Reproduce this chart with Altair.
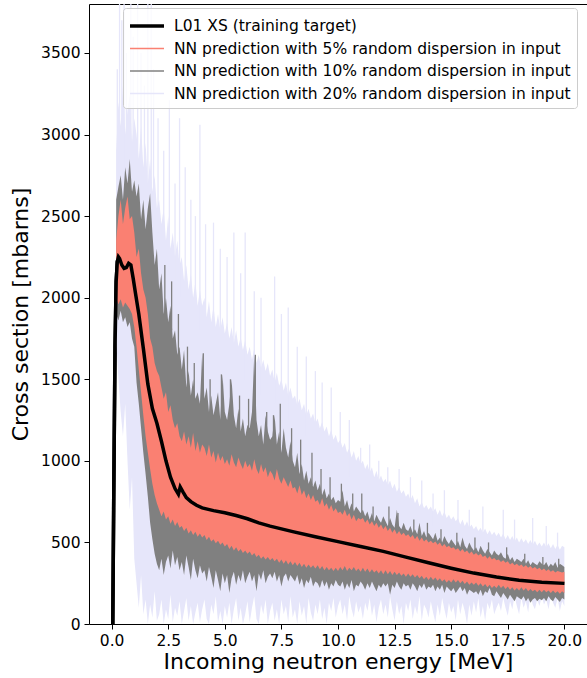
import altair as alt
import pandas as pd

# ---------------- data ----------------
energy = (
    [0.2, 0.3, 0.4, 0.5, 0.6, 0.7, 0.8, 0.9, 1.0]
    + [1.1, 1.2, 1.3, 1.4, 1.5, 1.6, 1.7, 1.8, 1.9, 2.0]
    + [2.1, 2.2, 2.3, 2.4, 2.5, 2.6, 2.7, 2.8, 2.9, 3.0]
    + [3.1, 3.2, 3.3, 3.4, 3.5, 3.6, 3.7, 3.8, 3.9, 4.0]
    + [4.1, 4.2, 4.3, 4.4, 4.5, 4.6, 4.7, 4.8, 4.9, 5.0]
    + [5.1, 5.2, 5.3, 5.4, 5.5, 5.6, 5.7, 5.8, 5.9, 6.0]
    + [6.1, 6.2, 6.3, 6.4, 6.5, 6.6, 6.7, 6.8, 6.9, 7.0]
    + [7.1, 7.2, 7.3, 7.4, 7.5, 7.6, 7.7, 7.8, 7.9, 8.0]
    + [8.1, 8.2, 8.3, 8.4, 8.5, 8.6, 8.7, 8.8, 8.9, 9.0]
    + [9.1, 9.2, 9.3, 9.4, 9.5, 9.6, 9.7, 9.8, 9.9, 10.0]
    + [10.1, 10.2, 10.3, 10.4, 10.5, 10.6, 10.7, 10.8, 10.9, 11.0]
    + [11.1, 11.2, 11.3, 11.4, 11.5, 11.6, 11.7, 11.8, 11.9, 12.0]
    + [12.1, 12.2, 12.3, 12.4, 12.5, 12.6, 12.7, 12.8, 12.9, 13.0]
    + [13.1, 13.2, 13.3, 13.4, 13.5, 13.6, 13.7, 13.8, 13.9, 14.0]
    + [14.1, 14.2, 14.3, 14.4, 14.5, 14.6, 14.7, 14.8, 14.9, 15.0]
    + [15.1, 15.2, 15.3, 15.4, 15.5, 15.6, 15.7, 15.8, 15.9, 16.0]
    + [16.1, 16.2, 16.3, 16.4, 16.5, 16.6, 16.7, 16.8, 16.9, 17.0]
    + [17.1, 17.2, 17.3, 17.4, 17.5, 17.6, 17.7, 17.8, 17.9, 18.0]
    + [18.1, 18.2, 18.3, 18.4, 18.5, 18.6, 18.7, 18.8, 18.9, 19.0]
    + [19.1, 19.2, 19.3, 19.4, 19.5, 19.6, 19.7, 19.8, 19.9, 20.0]
)

# 20 % dispersion (lavender): dense envelope
lav_hi = (
    [2900, 3200, 3050, 3300, 3000, 3150, 3250, 2950, 3100]
    + [3000, 2850, 3050, 2800, 2950, 2700, 2850, 2650, 2750, 2550]
    + [2600, 2450, 2550, 2350, 2500, 2300, 2400, 2250, 2350, 2200]
    + [2250, 2100, 2200, 2050, 2150, 2000, 2100, 1950, 2050, 1950]
    + [2000, 1880, 1980, 1850, 1950, 1820, 1900, 1800, 1880, 1780]
    + [1850, 1750, 1820, 1720, 1800, 1700, 1760, 1680, 1740, 1650]
    + [1700, 1620, 1690, 1600, 1650, 1570, 1620, 1550, 1600, 1520]
    + [1560, 1480, 1540, 1460, 1500, 1430, 1480, 1400, 1450, 1380]
    + [1400, 1340, 1380, 1310, 1350, 1280, 1320, 1260, 1290, 1230]
    + [1260, 1200, 1240, 1180, 1210, 1150, 1190, 1130, 1160, 1110]
    + [1130, 1080, 1110, 1050, 1080, 1020, 1060, 1000, 1030, 980]
    + [1000, 950, 980, 930, 960, 900, 940, 880, 910, 870]
    + [890, 850, 880, 830, 860, 810, 840, 800, 820, 780]
    + [800, 760, 790, 740, 770, 720, 750, 710, 730, 700]
    + [720, 690, 710, 670, 700, 660, 690, 650, 670, 640]
    + [660, 630, 650, 610, 640, 600, 630, 590, 610, 580]
    + [600, 570, 590, 560, 585, 550, 575, 545, 565, 540]
    + [560, 530, 555, 520, 545, 515, 540, 505, 530, 500]
    + [525, 500, 520, 490, 515, 485, 510, 480, 500, 475]
    + [500, 470, 495, 465, 490, 460, 485, 455, 480, 470]
)
lav_lo = (
    [1750, 1500, 1300, 1150, 1350, 1000, 700, 900, 400]
    + [250, 100, 300, 60, 150, 0, 120, 40, 200, 20]
    + [60, 150, 0, 90, 30, 180, 10, 100, 50, 140]
    + [0, 80, 160, 20, 110, 0, 70, 130, 10, 90]
    + [150, 30, 0, 120, 60, 170, 10, 80, 0, 110]
    + [40, 130, 0, 90, 160, 20, 100, 0, 60, 140]
    + [10, 100, 170, 30, 0, 120, 60, 150, 0, 80]
    + [130, 20, 90, 0, 150, 60, 110, 10, 170, 40]
    + [90, 0, 140, 50, 110, 0, 160, 70, 20, 120]
    + [60, 150, 30, 100, 0, 130, 80, 160, 40, 110]
    + [150, 60, 120, 20, 170, 90, 40, 140, 70, 110]
    + [30, 130, 80, 160, 50, 120, 10, 100, 150, 60]
    + [120, 40, 170, 90, 20, 140, 60, 110, 0, 130]
    + [80, 150, 30, 110, 60, 170, 20, 120, 90, 40]
    + [140, 70, 10, 120, 50, 160, 90, 30, 130, 70]
    + [110, 20, 150, 60, 130, 80, 0, 120, 50, 140]
    + [70, 160, 40, 110, 20, 130, 90, 150, 60, 100]
    + [130, 80, 160, 100, 50, 140, 90, 170, 110, 60]
    + [160, 100, 140, 70, 180, 120, 90, 150, 110, 170]
    + [120, 150, 90, 170, 130, 100, 160, 80, 140, 110]
)
# 20 % dispersion: isolated tall excursions (energy, from, to)
lav_spike_E = [0.25, 0.35, 0.45, 0.55, 0.65, 0.85, 0.95, 1.15, 1.3, 1.45, 1.6, 1.75,
               1.85, 2.05, 2.3, 2.55, 2.8, 3.0, 3.25, 3.5, 3.7, 3.9, 4.15, 4.5,
               4.8, 5.1, 5.4, 5.7, 5.9, 6.3, 6.6, 7.2, 7.5, 7.8, 8.2, 8.6, 9.0,
               9.3, 9.7, 10.1, 10.5, 11.0, 11.4, 11.8, 12.2, 12.7, 13.2, 13.7,
               14.2, 14.7, 15.3, 15.8, 16.4, 17.3, 17.8, 18.6, 19.2, 19.7]
lav_spike_lo = [2600, 2600, 2600, 2600, 2600, 2600, 2600, 2600, 2600, 2600, 2600, 2600,
                2600, 2400, 2300, 2200, 2100, 2000, 1950, 1900, 1850, 1800, 1750, 1700,
                1650, 1600, 1550, 1500, 1500, 1450, 1400, 1350, 1300, 1250, 1200, 1150, 1100,
                1050, 1000, 950, 900, 850, 800, 770, 730, 700, 660, 630,
                600, 580, 550, 520, 500, 470, 450, 430, 420, 410]
lav_spike_top = [3400, 3900, 3700, 3900, 3500, 3900, 3600, 3900, 3500, 3300, 3900, 3900,
                 3400, 3100, 2900, 3210, 2700, 3100, 2800, 2600, 2500, 3060, 2450, 2460,
                 2300, 2250, 2400, 2150, 2400, 2040, 2000, 2130, 1900, 1940, 1700, 1640, 1550,
                 1480, 1450, 1300, 1250, 1080, 1100, 1000, 960, 950, 900, 880,
                 800, 820, 760, 700, 720, 700, 640, 650, 600, 560]

# 10 % dispersion (gray) envelope
gray_hi = (
    [2600, 2680, 2750, 2600, 2800, 2700, 2850, 2650, 2720]
    + [2620, 2700, 2480, 2600, 2420, 2550, 2640, 2400, 2200, 2300]
    + [2050, 2150, 1900, 2000, 1850, 1950, 1750, 1800, 1650, 1700]
    + [1560, 1680, 1450, 1550, 1400, 1500, 1380, 1420, 1350, 1660]
    + [1380, 1450, 1300, 1400, 1280, 1350, 1420, 1250, 1530, 1300]
    + [1250, 1350, 1500, 1280, 1200, 1320, 1180, 1260, 1150, 1220]
    + [1200, 1300, 1650, 1250, 1150, 1220, 1100, 1280, 1180, 1130]
    + [1150, 1280, 1100, 1180, 1050, 1200, 1080, 1020, 1120, 1000]
    + [960, 1050, 920, 980, 880, 940, 860, 900, 840, 880]
    + [820, 860, 790, 830, 770, 800, 760, 780, 740, 760]
    + [750, 820, 720, 760, 700, 740, 690, 720, 700, 680]
    + [700, 660, 690, 640, 680, 630, 670, 640, 620, 660]
    + [630, 600, 650, 610, 590, 700, 600, 580, 620, 580]
    + [570, 600, 560, 580, 550, 620, 540, 570, 530, 560]
    + [540, 520, 560, 510, 530, 500, 540, 510, 490, 520]
    + [500, 480, 510, 470, 530, 480, 460, 500, 470, 450]
    + [470, 440, 480, 450, 430, 460, 440, 420, 450, 430]
    + [420, 440, 410, 400, 430, 390, 410, 380, 400, 390]
    + [380, 400, 370, 390, 360, 380, 370, 360, 385, 370]
    + [360, 380, 350, 370, 355, 380, 345, 370, 360, 350]
)
gray_lo = (
    [1900, 1860, 1920, 1850, 1880, 1820, 1850, 1750, 1700]
    + [1480, 1350, 1200, 1050, 920, 780, 620, 520, 430, 370]
    + [330, 400, 300, 380, 420, 340, 450, 360, 410, 330]
    + [380, 300, 420, 350, 270, 400, 330, 280, 360, 310]
    + [330, 260, 350, 290, 220, 330, 270, 200, 310, 250]
    + [300, 190, 280, 320, 240, 300, 260, 330, 250, 290]
    + [320, 260, 300, 200, 310, 270, 330, 250, 290, 310]
    + [280, 320, 260, 300, 230, 290, 310, 260, 300, 280]
    + [260, 300, 240, 280, 220, 270, 250, 290, 230, 260]
    + [250, 220, 270, 230, 260, 210, 250, 230, 270, 240]
    + [230, 260, 210, 250, 220, 270, 200, 240, 230, 260]
    + [240, 210, 250, 220, 260, 230, 200, 240, 220, 250]
    + [230, 250, 180, 240, 220, 260, 230, 210, 250, 230]
    + [240, 210, 250, 230, 200, 240, 220, 250, 210, 230]
    + [220, 240, 200, 230, 210, 240, 190, 230, 215, 200]
    + [220, 190, 210, 230, 200, 220, 180, 210, 200, 190]
    + [200, 180, 210, 170, 200, 190, 220, 180, 170, 200]
    + [180, 160, 190, 170, 150, 180, 160, 140, 170, 160]
    + [150, 170, 140, 160, 130, 150, 160, 140, 155, 145]
    + [160, 140, 170, 150, 140, 165, 150, 135, 160, 150]
)
# 10 % dispersion: isolated tall excursions (energy, from, to)
gray_spike_E = [2.35, 2.65, 2.95, 3.35, 3.65, 4.05, 4.35, 4.85, 5.25, 5.65, 6.05, 6.35,
                6.85, 7.15, 7.45, 7.95, 8.35, 8.85, 9.25, 9.65, 10.15, 10.65, 11.05,
                11.55, 12.25, 12.65, 13.35, 13.95, 14.55, 15.25, 16.05, 16.65, 17.45,
                18.25, 19.05, 19.75]
gray_spike_lo = [1900, 1800, 1600, 1400, 1350, 1300, 1250, 1200, 1150, 1150, 1100, 1100,
                 1050, 1000, 1000, 950, 900, 850, 800, 750, 700, 680, 650,
                 620, 600, 570, 540, 520, 480, 450, 420, 400, 370,
                 350, 330, 320]
gray_spike_top = [2200, 2100, 1900, 1700, 1600, 1660, 1500, 1530, 1500, 1400, 1380, 1650,
                  1300, 1280, 1350, 1200, 1130, 1050, 950, 900, 860, 800, 800,
                  720, 720, 680, 640, 620, 580, 560, 530, 500, 470,
                  430, 410, 400]

# 5 % dispersion (salmon) envelope
salmon_hi = (
    [2350, 2500, 2600, 2450, 2550, 2620, 2480, 2500, 2400]
    + [2250, 2300, 2150, 2050, 2000, 1900, 1750, 1700, 1600, 1550]
    + [1520, 1450, 1380, 1420, 1300, 1340, 1250, 1200, 1230, 1150]
    + [1120, 1180, 1100, 1150, 1080, 1170, 1060, 1120, 1050, 1100]
    + [1080, 1030, 1100, 1020, 1060, 990, 1050, 1000, 1030, 980]
    + [1010, 970, 1040, 990, 960, 1020, 980, 950, 1000, 960]
    + [980, 940, 1010, 950, 920, 980, 930, 960, 900, 940]
    + [920, 880, 950, 890, 860, 900, 870, 840, 880, 830]
    + [840, 800, 850, 790, 820, 770, 800, 760, 790, 750]
    + [760, 730, 770, 720, 740, 700, 730, 690, 710, 680]
    + [690, 670, 700, 660, 680, 640, 670, 630, 650, 640]
    + [650, 620, 640, 610, 630, 600, 620, 590, 610, 580]
    + [600, 570, 590, 560, 580, 550, 570, 545, 560, 540]
    + [550, 530, 545, 520, 540, 510, 530, 505, 520, 500]
    + [510, 495, 505, 485, 500, 475, 490, 470, 480, 465]
    + [470, 455, 465, 445, 460, 440, 450, 430, 445, 425]
    + [435, 420, 430, 410, 420, 400, 415, 395, 405, 390]
    + [395, 380, 390, 375, 385, 365, 375, 360, 370, 355]
    + [365, 350, 360, 345, 355, 340, 350, 335, 345, 330]
    + [340, 325, 335, 320, 330, 315, 325, 320, 315, 320]
)
salmon_lo = (
    [2000, 1960, 1990, 1940, 1970, 1950, 1930, 1900, 1820]
    + [1700, 1560, 1420, 1280, 1150, 1050, 950, 860, 790, 740]
    + [700, 660, 690, 640, 660, 615, 640, 600, 625, 590]
    + [600, 570, 590, 555, 575, 545, 565, 535, 555, 530]
    + [545, 515, 535, 505, 520, 495, 510, 485, 500, 475]
    + [490, 460, 480, 450, 470, 445, 460, 435, 450, 430]
    + [445, 420, 435, 410, 425, 400, 415, 395, 410, 390]
    + [405, 385, 400, 375, 395, 370, 390, 365, 385, 360]
    + [380, 355, 375, 350, 370, 345, 365, 345, 360, 340]
    + [360, 335, 355, 330, 350, 330, 345, 325, 345, 325]
    + [350, 330, 355, 325, 345, 330, 350, 325, 340, 320]
    + [345, 320, 340, 315, 335, 315, 330, 310, 330, 305]
    + [330, 305, 325, 300, 320, 300, 315, 295, 310, 290]
    + [310, 290, 305, 285, 300, 280, 295, 275, 290, 270]
    + [290, 270, 285, 265, 280, 260, 275, 255, 270, 255]
    + [275, 255, 270, 250, 265, 245, 260, 240, 255, 240]
    + [255, 235, 250, 230, 245, 225, 240, 220, 235, 220]
    + [240, 220, 235, 215, 230, 210, 225, 205, 220, 205]
    + [225, 205, 220, 200, 215, 200, 210, 195, 210, 195]
    + [210, 195, 205, 190, 205, 190, 200, 185, 200, 190]
)

# L01 training target curve
target_E = [0.05, 0.1, 0.15, 0.2, 0.25, 0.3, 0.35, 0.45, 0.55, 0.65, 0.75, 0.85,
            0.95, 1.05, 1.2, 1.4, 1.6, 1.8, 2.0, 2.2, 2.4, 2.6, 2.8, 2.95, 3.03,
            3.15, 3.3, 3.5, 3.75, 4.0, 4.5, 5.0, 5.5, 6.0, 6.5, 7.0, 8.0, 9.0,
            10.0, 11.0, 12.0, 13.0, 14.0, 15.0, 16.0, 17.0, 18.0, 19.0, 20.0]
target_xs = [0, 900, 1700, 2100, 2220, 2250, 2240, 2200, 2180, 2185, 2210, 2200,
             2120, 2030, 1900, 1690, 1470, 1320, 1230, 1120, 1000, 900, 830, 795, 840,
             810, 775, 750, 728, 712, 695, 682, 665, 645, 620, 600, 566, 535,
             505, 475, 445, 410, 375, 342, 312, 288, 268, 256, 249]

series_names = [
    "L01 XS (training target)",
    "NN prediction with 5% random dispersion in input",
    "NN prediction with 10% random dispersion in input",
    "NN prediction with 20% random dispersion in input",
]
series_colors = ["#000000", "#FA8072", "#808080", "#E6E6FA"]
series_widths = [3.5, 1.5, 1.5, 1.5]

x_ticks = [0.0, 2.5, 5.0, 7.5, 10.0, 12.5, 15.0, 17.5, 20.0]
y_ticks = [0, 500, 1000, 1500, 2000, 2500, 3000, 3500]

# ---------------- tables ----------------
target_df = pd.DataFrame({"E": target_E, "xs": target_xs, "series": series_names[0]})
lav_df = pd.DataFrame({"E": energy, "lo": lav_lo, "hi": lav_hi})
lav_spikes = pd.DataFrame({"E": lav_spike_E, "lo": lav_spike_lo, "top": lav_spike_top})
gray_df = pd.DataFrame({"E": energy, "lo": gray_lo, "hi": gray_hi})
gray_spikes = pd.DataFrame({"E": gray_spike_E, "lo": gray_spike_lo, "top": gray_spike_top})
salmon_df = pd.DataFrame({"E": energy, "lo": salmon_lo, "hi": salmon_hi})

FONT = "DejaVu Sans"

x_scale = alt.Scale(domain=[-1, 21], nice=False, zero=False)
y_scale = alt.Scale(domain=[0, 3800], nice=False, zero=False)
x_axis = alt.Axis(values=x_ticks, format=".1f", title="Incoming neutron energy [MeV]",
                  titleY=44, titleBaseline="alphabetic")
y_axis = alt.Axis(values=y_ticks, format="d", title="Cross section [mbarns]",
                  titleX=-69, titleY=310, titleAngle=-90, titleBaseline="middle",
                  titleAlign="center")

X = alt.X("E:Q", scale=x_scale, axis=x_axis)

legend = alt.Legend(
    title=None, orient="none", legendX=34, legendY=4,
    symbolType="M-1.7,0H1.7", symbolSize=400, symbolOffset=6,
    labelFontSize=15.5, labelFont=FONT,
    labelColor="#000000", labelLimit=800, labelOffset=15, padding=6, rowPadding=2.5,
    strokeColor="#CCCCCC", cornerRadius=3, fillColor="rgba(255,255,255,0.8)",
)

legend_layer = alt.Chart(target_df).mark_line(clip=True).encode(
    x=X,
    y=alt.Y("xs:Q", scale=y_scale, axis=y_axis),
    color=alt.Color("series:N", scale=alt.Scale(domain=series_names, range=series_colors),
                    legend=legend),
    strokeWidth=alt.StrokeWidth("series:N",
                                scale=alt.Scale(type="ordinal", domain=series_names,
                                                range=series_widths),
                                legend=legend),
)


def band(df, color):
    return alt.Chart(df).mark_area(clip=True, color=color, opacity=1).encode(
        x=X,
        y=alt.Y("lo:Q", scale=y_scale, axis=y_axis),
        y2="hi:Q",
    )


def spikes(df, color):
    return alt.Chart(df).mark_rule(clip=True, color=color, strokeWidth=1.3).encode(
        x=X,
        y=alt.Y("top:Q", scale=y_scale, axis=y_axis),
        y2="lo:Q",
    )


chart = alt.layer(
    legend_layer,
    band(lav_df, series_colors[3]),
    spikes(lav_spikes, series_colors[3]),
    band(gray_df, series_colors[2]),
    spikes(gray_spikes, series_colors[2]),
    band(salmon_df, series_colors[1]),
    alt.Chart(target_df).mark_line(clip=True, color="#000000", strokeWidth=3.5).encode(
        x=X,
        y=alt.Y("xs:Q", scale=y_scale, axis=y_axis),
    ),
).properties(
    width=498, height=620, autosize="none",
    padding={"left": 89, "top": 4, "right": 0, "bottom": 54},
).configure(
    background="white"
).configure_view(
    stroke="#000000", strokeWidth=1
).configure_axis(
    grid=False, domain=False, tickColor="#000000", tickSize=5, tickWidth=1,
    labelFont=FONT, labelFontSize=15.5, labelColor="#000000", labelPadding=4,
    titleFont=FONT, titleFontSize=22, titleFontWeight="normal", titleColor="#000000",
)

chart.save("out.html", embed_options={"renderer": "svg", "actions": False})
